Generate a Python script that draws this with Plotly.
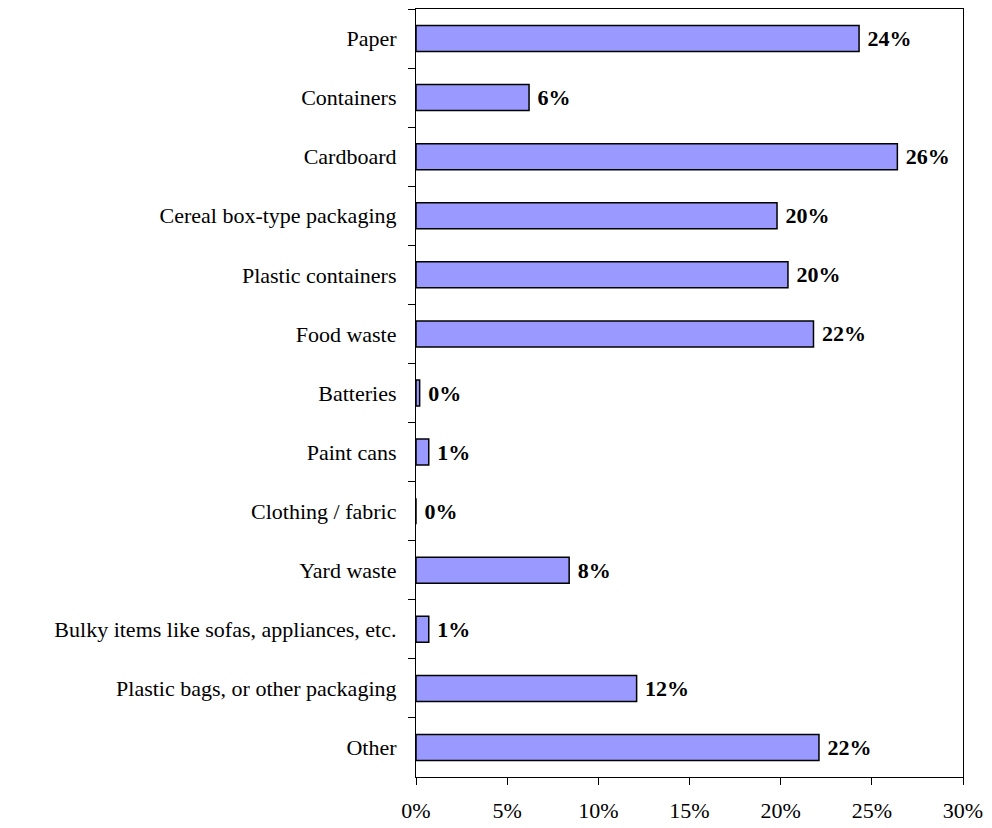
import plotly.graph_objects as go

categories = ["Paper", "Containers", "Cardboard", "Cereal box-type packaging",
              "Plastic containers", "Food waste", "Batteries", "Paint cans",
              "Clothing / fabric", "Yard waste",
              "Bulky items like sofas, appliances, etc.",
              "Plastic bags, or other packaging", "Other"]
values = [0.243, 0.062, 0.264, 0.198, 0.204, 0.218, 0.002, 0.007, 0.0,
          0.084, 0.007, 0.121, 0.221]
x_tickvals = [0, 0.05, 0.10, 0.15, 0.20, 0.25, 0.30]

fig = go.Figure(go.Bar(
    x=values, y=categories, orientation="h",
    marker=dict(color="#9999FF", line=dict(color="black", width=1.5)),
    texttemplate=" %{x:.0%}", textposition="outside", cliponaxis=False,
    textfont=dict(family="Liberation Serif", size=22, color="black", weight="bold"),
    width=0.44,
))

fig.update_layout(
    width=984, height=820,
    margin=dict(l=408, r=29, t=1, b=51, autoexpand=False),
    paper_bgcolor="white", plot_bgcolor="white",
    font=dict(family="Liberation Serif", size=22, color="black"),
    showlegend=False,
    xaxis=dict(range=[0, 0.30], tickvals=x_tickvals, tickformat=".0%",
               showgrid=False, zeroline=False, showline=True, linecolor="black",
               linewidth=1.2, mirror=True, ticks="outside", ticklen=7,
               tickcolor="black", ticklabelstandoff=6, automargin=False),
    yaxis=dict(autorange="reversed", type="category", tickson="boundaries",
               showgrid=False, showline=True, linecolor="black", linewidth=1.2,
               mirror=True, ticks="outside", ticklen=7, tickcolor="black",
               ticklabelstandoff=14, automargin=False),
)

fig.write_html("out.html")
